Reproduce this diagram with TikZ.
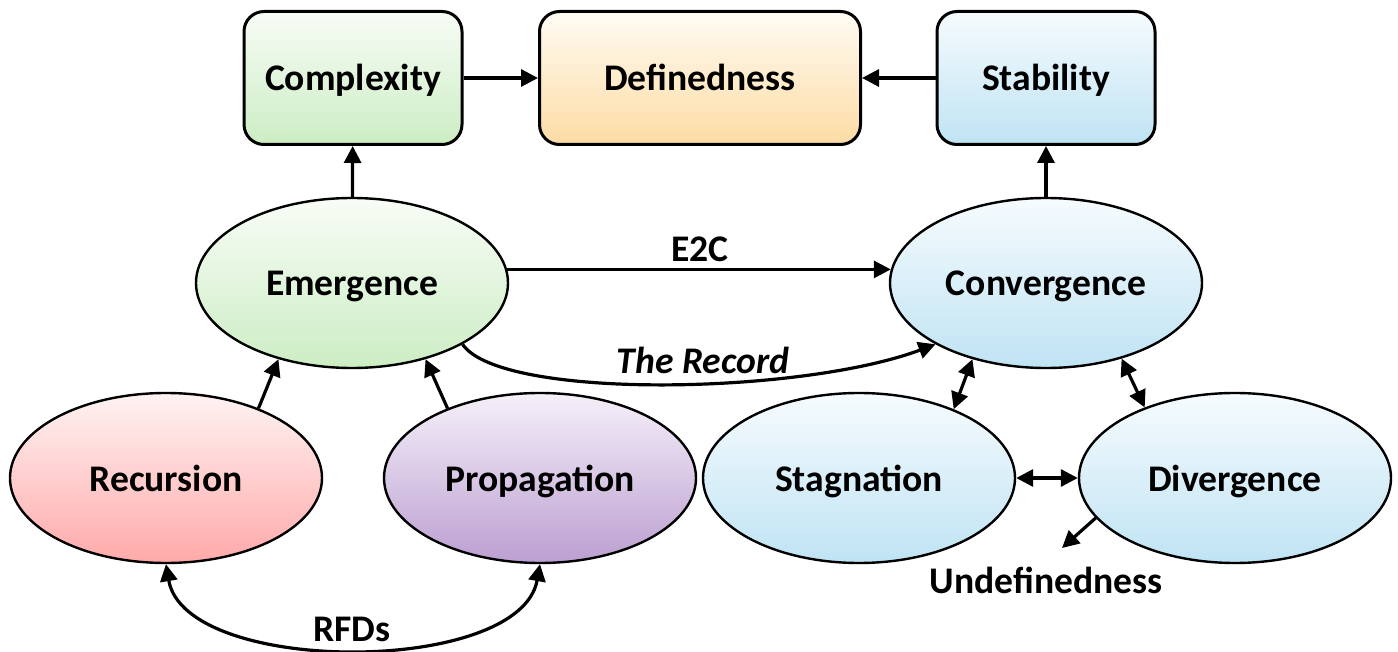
\documentclass[tikz,border=0pt]{standalone}
\usepackage{fontspec}
\setmainfont{Carlito}
\usetikzlibrary{shapes.geometric,arrows.meta}

% fill colours
\definecolor{grnT}{HTML}{F8FCF6}\definecolor{grnB}{HTML}{CCEDC4}
\definecolor{orgT}{HTML}{FFFBF4}\definecolor{orgB}{HTML}{FDDCA4}
\definecolor{bluT}{HTML}{F6FBFE}\definecolor{bluB}{HTML}{BFE3F3}
\definecolor{pnkT}{HTML}{FFF3F3}\definecolor{pnkB}{HTML}{FFA9A9}
\definecolor{purT}{HTML}{F5F0F9}\definecolor{purB}{HTML}{BC9FD1}

\tikzset{
  lbl/.style={font=\fontsize{18.8}{22}\selectfont\bfseries, inner sep=0pt,
              text height=13pt, text depth=0pt},
  box/.style={lbl, draw, line width=1.5pt, rounded corners=10pt,
              minimum width=109pt, minimum height=66.5pt},
  oval/.style={lbl, ellipse, draw, line width=1.2pt,
               minimum width=156pt, minimum height=85pt},
  green/.style={top color=grnT, bottom color=grnB},
  orange/.style={top color=orgT, bottom color=orgB},
  blue/.style={top color=bluT, bottom color=bluB},
  pink/.style={top color=pnkT, bottom color=pnkB},
  purple/.style={top color=purT, bottom color=purB},
  tip/.tip={Triangle[length=8.5pt,width=8.5pt]},
  conn/.style={line width=1.6pt, -tip},
  both/.style={line width=1.6pt, tip-tip},
}

\begin{document}
\begin{tikzpicture}[x=0.5pt,y=-0.5pt]
\useasboundingbox (0,0) rectangle (1398,652);

% top row
\node[box, green]  (cplx) at (353,78)  {Complexity};
\node[box, orange, minimum width=160.5pt] (defn) at (700,78) {Definedness};
\node[box, blue]   (stab) at (1046,78) {Stability};

% middle row
\node[oval, green] (emer) at (352,283)  {Emergence};
\node[oval, blue]  (conv) at (1046,283) {Convergence};

% bottom row
\node[oval, pink]   (recu) at (166,478)  {Recursion};
\node[oval, purple] (prop) at (540,478)  {Propagation};
\node[oval, blue]   (stag) at (859,478)  {Stagnation};
\node[oval, blue]   (divg) at (1235,478) {Divergence};

\node[lbl] (undef) at (1046,580) {Undefinedness};
\coordinate (undefTip) at (1062,548);

% connectors
\draw[conn] (cplx) -- (defn);
\draw[conn] (stab) -- (defn);
\draw[conn] (emer) -- (cplx);
\draw[conn] (conv) -- (stab);

\draw[conn] (emer.5) -- (conv.175);
\node[lbl] (e2c) at (700,249) {E2C};
\draw[conn] (emer.331) .. controls (500,400) and (800,395) .. (conv.209);
\node[lbl, font=\fontsize{18.8}{22}\selectfont\bfseries\itshape] (rec) at (703,360) {The Record};

\draw[conn] (recu.37) -- (emer.226);
\draw[conn] (prop.143) -- (emer.314);

\draw[both] (stag.36) -- (conv.226.5);
\draw[both] (divg.142) -- (conv.315);
\draw[both] (stag.east) -- (divg.west);
\draw[conn] (divg.196) -- (undefTip);

\draw[both] (recu.south) .. controls (185,676) and (520,676) .. (prop.south);
\node[lbl] (rfds) at (352,628) {RFDs};
\end{tikzpicture}
\end{document}
